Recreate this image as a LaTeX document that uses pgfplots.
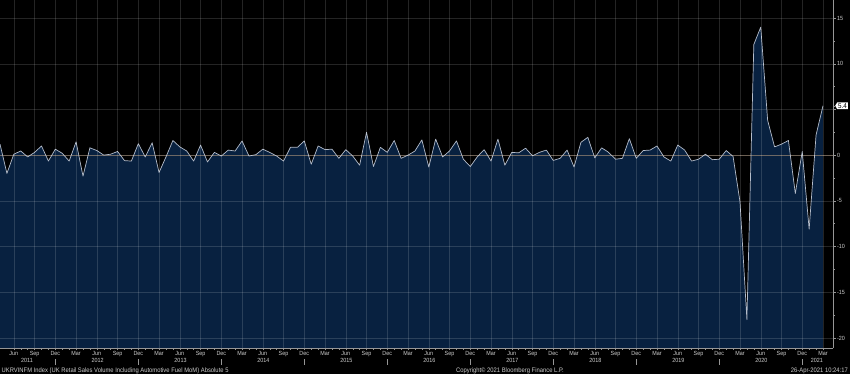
\documentclass[border=0pt]{standalone}
\usepackage{pgfplots}
\pgfplotsset{compat=1.18}
\usetikzlibrary{shapes.symbols}
\usepackage{fontspec}
\setmainfont{Liberation Sans}[FakeStretch=0.9]
\definecolor{navy}{RGB}{8,33,64}
\definecolor{linec}{RGB}{180,188,202}
\definecolor{axgray}{RGB}{150,150,150}
\definecolor{lblgray}{RGB}{205,205,205}
\definecolor{zeroc}{RGB}{120,100,80}
\newcommand{\DEC}{\shortstack{Dec\\\textcolor{axgray}{\rule{0.4pt}{6pt}}}}
\pgfplotstableread{
i v
0 -25
0 1.2
1 -2.0
2 0.1
3 0.45
4 -0.2
5 0.3
6 1.0
7 -0.65
8 0.65
9 0.2
10 -0.65
11 1.45
12 -2.3
13 0.8
14 0.5
15 0.0
16 0.1
17 0.4
18 -0.6
19 -0.65
20 1.25
21 -0.2
22 1.35
23 -1.9
24 -0.2
25 1.6
26 0.9
27 0.45
28 -0.65
29 1.1
30 -0.75
31 0.3
32 -0.1
33 0.55
34 0.45
35 1.55
36 -0.1
37 0.05
38 0.65
39 0.3
40 -0.1
41 -0.65
42 0.85
43 0.85
44 1.55
45 -1.0
46 1.0
47 0.6
48 0.65
49 -0.35
50 0.6
51 -0.1
52 -1.1
53 2.5
54 -1.25
55 0.85
56 0.3
57 1.6
58 -0.35
59 0.0
60 0.45
61 1.67
62 -1.3
63 1.75
64 -0.2
65 0.45
66 1.55
67 -0.45
68 -1.25
69 -0.2
70 0.6
71 -0.65
72 1.75
73 -1.1
74 0.3
75 0.25
76 0.75
77 -0.07
78 0.3
79 0.55
80 -0.58
81 -0.35
82 0.55
83 -1.3
84 1.4
85 1.95
86 -0.3
87 0.8
88 0.3
89 -0.45
90 -0.35
91 1.8
92 -0.35
93 0.5
94 0.55
95 1.0
96 -0.2
97 -0.65
98 1.1
99 0.55
100 -0.65
101 -0.45
102 0.1
103 -0.5
104 -0.45
105 0.5
106 -0.15
107 -5.1
108 -18.0
109 12.1
110 14.0
111 3.8
112 0.9
113 1.2
114 1.6
115 -4.2
116 0.4
117 -8.1
118 2.2
119 5.4
119 -25
}\datatable
\begin{document}
\begin{tikzpicture}
\fill[black] (0,-26pt) rectangle (850pt,348pt);
\begin{axis}[
  at={(0,0)}, anchor=south west,
  width=833pt, height=348pt, scale only axis,
  xmin=0, xmax=120.45, ymin=-21.1, ymax=16.97,
  axis on top,
  axis x line*=bottom, axis y line*=right,
  axis line style={draw=axgray, line width=0.5pt},
  tick align=outside,
  major tick length=2.5pt, minor tick length=1.6pt,
  tick style={draw=axgray, line width=0.4pt},
  xtick={2,5,...,119},
  xticklabels={Jun,Sep,\DEC,Mar,Jun,Sep,\DEC,Mar,Jun,Sep,\DEC,Mar,Jun,Sep,\DEC,Mar,Jun,Sep,\DEC,Mar,Jun,Sep,\DEC,Mar,Jun,Sep,\DEC,Mar,Jun,Sep,\DEC,Mar,Jun,Sep,\DEC,Mar,Jun,Sep,\DEC,Mar},
  minor x tick num=2,
  ytick={-20,-15,...,15},
  yticklabels={-20,-15,-10,-5,0,{},10,15},
  minor y tick num=1,
  grid=major,
  major grid style={draw=white, opacity=0.14, line width=0.4pt},
  ticklabel style={font=\fontsize{6}{7}\selectfont, text=lblgray, inner sep=0.8pt},
  xticklabel style={yshift=-0.3pt},
  yticklabel style={xshift=0.5pt},
  extra x ticks={3.9,14.1,26.1,38.1,50.1,62.1,74.1,86.1,98.1,110.1,118.1},
  extra x tick labels={2011,2012,2013,2014,2015,2016,2017,2018,2019,2020,2021},
  extra x tick style={grid=none, major tick length=0pt, xticklabel style={yshift=-9pt}},
  extra y ticks={5.4},
  extra y tick labels={5.4},
  extra y tick style={grid=none, major tick length=2pt,
     yticklabel style={fill=white, text=black, font=\fontsize{7}{8}\selectfont, shape=signal, signal to=west, signal pointer angle=120, inner sep=1pt, xshift=-0.5pt}},
]
\addplot[fill=navy, draw=none] table[x=i, y=v] {\datatable};
\addplot[draw=zeroc, line width=0.5pt, opacity=0.7] coordinates {(0,0) (120.45,0)};
\addplot[draw=linec, line width=0.7pt, line join=round, restrict y to domain=-24:20] table[x=i, y=v] {\datatable};
\end{axis}
\node[anchor=base west, inner sep=0, text=lblgray, font=\fontsize{6.5}{7}\selectfont] at (1.5pt,-24.2pt) {UKRVINFM Index (UK Retail Sales Volume Including Automotive Fuel MoM) Absolute 5};
\node[anchor=base west, inner sep=0, text=lblgray, font=\fontsize{6.5}{7}\selectfont] at (456pt,-24.2pt) {Copyright\textcopyright{} 2021 Bloomberg Finance L.P.};
\node[anchor=base east, inner sep=0, text=lblgray, font=\fontsize{6.5}{7}\selectfont] at (848pt,-24.2pt) {26-Apr-2021 10:24:17};
\pgfresetboundingbox
\path[use as bounding box] (0,-26pt) rectangle (850pt,348pt);
\end{tikzpicture}
\end{document}
